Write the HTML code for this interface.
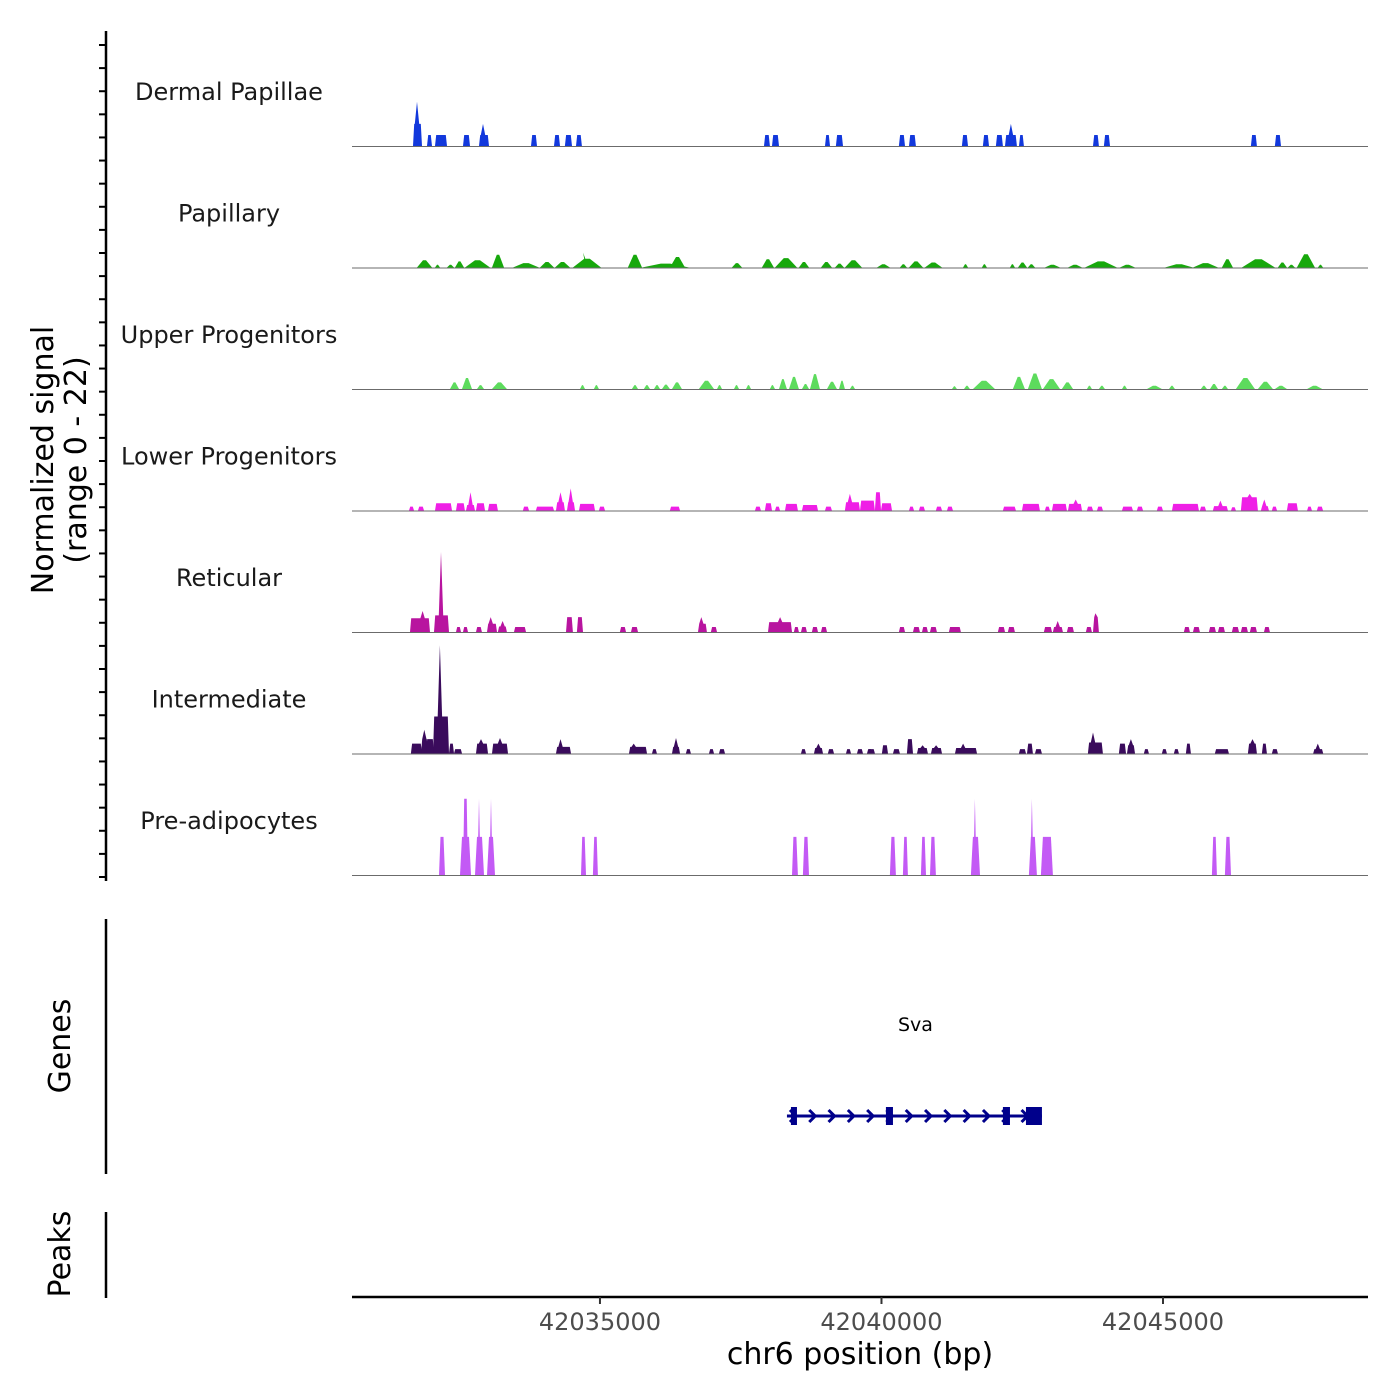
<!DOCTYPE html>
<html><head><meta charset="utf-8"><style>
html,body{margin:0;padding:0;background:#fff;}
svg{display:block;font-family:"DejaVu Sans","Liberation Sans",sans-serif;}
</style></head><body>
<svg id="chart" width="1400" height="1400" viewBox="0 0 1400 1400" xmlns="http://www.w3.org/2000/svg">
<g id="tracks"></g>
<g id="axes"></g>
<g id="genes"></g>
</svg>
<script>
// positions in kb offset from 42,030,000 bp; heights in normalized signal units (0-22)
const trackNames = ["Dermal Papillae","Papillary","Upper Progenitors","Lower Progenitors","Reticular","Intermediate","Pre-adipocytes"];
const trackColors = ["#1238dc","#17a80c","#5ddb5d","#ef1fe6","#b8149f","#3a0b5c","#c35af5"];
// [start, end, height, peakPos, peakHeight]
const dermalPapillae = [[1.679,1.839,4,1.750,8],[1.928,2.017,2],[2.070,2.283,2],[2.567,2.691,2],[2.851,3.029,2,2.922,4],[3.775,3.881,2],[4.183,4.290,2],[4.378,4.503,2],[4.574,4.680,2],[7.913,8.019,2],[8.055,8.179,2],[8.996,9.085,2],[9.191,9.316,2],[10.310,10.417,2],[10.488,10.612,2],[11.429,11.536,2],[11.802,11.909,2],[12.033,12.157,2],[12.193,12.406,2,12.299,4],[12.442,12.530,2],[13.756,13.862,2],[13.951,14.058,2],[16.562,16.668,2],[16.988,17.095,2]];
const papillary = [[1.750,2.017,1.3],[2.070,2.159,0.5],[2.283,2.407,0.5],[2.425,2.585,1.1],[2.603,3.047,1.3],[3.082,3.295,2.3],[3.455,3.917,0.8],[3.935,4.183,1.0],[4.201,4.467,1.0],[4.520,5.018,1.6,4.70,2.7],[5.497,5.746,2.3],[5.746,6.581,0.7],[6.243,6.510,1.9],[7.344,7.522,0.8],[7.877,8.090,1.5],[8.108,8.499,1.7],[8.534,8.712,1.0],[8.925,9.120,1.0],[9.174,9.334,0.7],[9.351,9.653,1.3],[9.920,10.150,0.6],[10.328,10.452,0.6],[10.488,10.737,1.1],[10.772,11.074,0.9],[11.447,11.536,0.6],[11.784,11.873,0.6],[12.282,12.370,0.6],[12.424,12.584,0.9],[12.601,12.726,0.6],[12.903,13.170,0.5],[13.312,13.561,0.5],[13.614,14.182,1.1],[14.235,14.502,0.5],[15.035,15.532,0.6],[15.532,15.976,0.8],[16.047,16.242,1.5],[16.401,16.988,1.5],[17.041,17.201,0.9],[17.219,17.343,0.5],[17.378,17.698,2.4],[17.752,17.841,0.5]];
const upperProgenitors = [[2.336,2.496,1.2],[2.549,2.727,2.0],[2.816,2.940,0.7],[3.082,3.348,1.2,3.15,2.0],[4.645,4.734,0.7],[4.893,4.982,0.7],[5.568,5.675,0.7],[5.781,5.888,0.7],[5.959,6.066,0.7],[6.101,6.243,0.8],[6.279,6.456,1.2],[6.758,7.025,1.5],[7.078,7.167,0.7],[7.380,7.469,0.7],[7.593,7.682,0.7],[8.019,8.108,0.7],[8.179,8.321,1.8],[8.357,8.534,2.2],[8.588,8.712,0.9],[8.730,8.907,2.7],[9.032,9.209,1.3],[9.245,9.351,1.5],[9.44,9.529,0.6],[11.252,11.340,0.5],[11.465,11.571,0.6],[11.625,12.015,1.5],[12.335,12.548,2.2],[12.601,12.850,2.8],[12.868,13.170,1.8],[13.205,13.401,1.2],[13.649,13.738,0.6],[13.862,13.969,0.6],[14.271,14.360,0.6],[14.715,14.981,0.6],[15.106,15.212,0.6],[15.674,15.780,0.6],[15.834,15.976,0.9],[16.047,16.153,0.6],[16.295,16.633,2.0],[16.686,16.952,1.3],[16.988,17.201,0.6],[17.56,17.827,0.6]];
const lowerProgenitors = [[1.608,1.697,0.7],[1.768,1.874,0.7],[2.070,2.372,1.3],[2.443,2.602,1.3],[2.620,2.780,1.0,2.70,3.3],[2.798,2.958,1.3],[3.011,3.188,1.2],[3.632,3.739,0.7],[3.863,4.183,0.7],[4.219,4.378,1.5,4.30,3.3],[4.414,4.556,1.5,4.48,4.0],[4.627,4.911,1.2],[4.982,5.089,0.7],[6.243,6.421,0.7],[7.753,7.859,0.7],[7.930,8.055,1.3],[8.108,8.197,0.7],[8.286,8.516,1.2],[8.588,8.872,1.0],[8.996,9.120,0.7],[9.351,9.618,1.5,9.44,3.0],[9.618,9.884,1.8],[9.884,9.991,3.3],[9.991,10.186,1.3],[10.488,10.577,0.7],[10.665,10.772,0.7],[10.967,11.074,0.7],[11.163,11.269,0.7],[12.157,12.388,0.7],[12.495,12.814,1.2],[12.903,12.992,0.7],[13.028,13.294,1.2],[13.312,13.561,1.2,13.45,2.0],[13.649,13.756,0.7],[13.827,13.933,0.7],[14.271,14.466,0.7],[14.537,14.644,0.7],[14.892,14.999,0.7],[15.159,15.638,1.2],[15.656,15.763,0.7],[15.887,16.153,0.8,16.02,1.8],[16.207,16.295,0.6],[16.384,16.686,2.4,16.54,3.0],[16.739,16.881,0.8,16.80,2.0],[16.935,17.024,0.7],[17.201,17.396,1.3],[17.56,17.645,0.7],[17.734,17.841,0.7]];
const reticular = [[1.626,1.981,2.5,1.85,3.8],[2.052,2.318,3.0,2.176,14.5],[2.443,2.532,0.9],[2.567,2.656,0.9],[2.798,2.904,0.9],[2.993,3.171,1.5,3.06,2.7],[3.188,3.348,1.0,3.27,2.0],[3.473,3.686,0.9],[4.396,4.520,2.7],[4.591,4.698,2.7],[5.355,5.462,0.9],[5.551,5.675,0.9],[6.741,6.900,1.5,6.80,2.7],[6.971,7.078,0.9],[7.984,8.410,1.8,8.20,2.7],[8.445,8.534,0.9],[8.570,8.676,0.9],[8.765,8.872,0.9],[8.925,9.032,0.9],[10.310,10.417,0.9],[10.559,10.683,0.9],[10.719,10.825,0.9],[10.861,10.985,0.9],[11.198,11.411,0.9],[12.068,12.193,0.9],[12.246,12.370,0.9],[12.885,13.028,0.9],[13.045,13.223,0.9,13.13,2.0],[13.294,13.418,0.9],[13.631,13.738,0.9],[13.756,13.862,2.7,13.80,3.4],[15.372,15.478,0.9],[15.532,15.656,0.9],[15.816,15.940,0.9],[15.976,16.100,0.9],[16.224,16.349,0.9],[16.384,16.508,0.9],[16.544,16.668,0.9],[16.793,16.899,0.9]];
const intermediate = [[1.643,1.839,1.8],[1.821,1.945,2.6,1.88,4.3],[1.910,2.052,2.6],[2.034,2.318,6.7,2.158,19.6],[2.318,2.407,1.8],[2.407,2.549,0.8],[2.798,3.011,1.8,2.887,2.6],[3.082,3.366,1.8,3.224,2.8],[4.219,4.485,1.2,4.30,2.6],[5.515,5.835,1.2,5.60,1.8],[5.924,6.012,0.8],[6.279,6.421,1.2,6.35,2.8],[6.527,6.616,0.8],[6.936,7.025,0.8],[7.114,7.220,0.8],[8.570,8.659,0.8],[8.801,8.961,1.0,8.88,1.8],[9.049,9.156,0.8],[9.369,9.458,0.8],[9.565,9.671,0.8],[9.742,9.831,0.8],[9.760,9.884,0.8],[10.008,10.115,1.5],[10.204,10.328,0.8],[10.452,10.559,2.6],[10.630,10.825,1.0,10.73,1.5],[10.879,11.074,1.0,10.97,1.5],[11.305,11.696,1.0,11.45,1.8],[12.441,12.566,0.8],[12.584,12.690,1.8],[12.726,12.850,0.8],[13.667,13.933,2.0,13.756,3.8],[14.217,14.342,1.8],[14.360,14.502,1.5,14.43,2.6],[14.661,14.750,0.8],[14.981,15.070,0.8],[15.194,15.283,0.8],[15.407,15.496,1.8],[15.922,16.171,0.8],[16.508,16.668,1.8,16.59,2.6],[16.757,16.846,1.8],[16.935,17.041,0.8],[17.667,17.845,0.8,17.75,1.8]];
const preAdipocytes = [[2.141,2.247,6.9],[2.514,2.709,6.9],[2.567,2.656,13.8],[2.780,2.940,6.9,2.851,13.8],[2.993,3.135,6.9,3.064,13.8],[4.663,4.752,6.9],[4.875,4.964,6.9],[8.410,8.516,6.9],[8.605,8.712,6.9],[10.150,10.257,6.9],[10.381,10.470,6.9],[10.701,10.790,6.9],[10.861,10.967,6.9],[11.589,11.749,6.9,11.660,13.8],[12.618,12.761,6.9,12.672,13.8],[12.832,13.045,6.9],[15.869,15.958,6.9],[16.100,16.207,6.9]];
const trackData = [dermalPapillae,papillary,upperProgenitors,lowerProgenitors,reticular,intermediate,preAdipocytes];
const trackStyle = ["b","m","m","b","b","b","t"];
const xTickValues = [42035000,42040000,42045000];
const xTickLabels = ["42035000","42040000","42045000"];
const geneName = "Sva";
const geneSpan = [8.321,12.850];
const geneExons = [[8.392,8.499],[10.079,10.204],[12.157,12.282],[12.566,12.850]];

const NS="http://www.w3.org/2000/svg";
const X0=352,X1=1368,BP0=42030596,BP1=42048641;
function xs(kb){const bp=42030000+kb*1000;return X0+(bp-BP0)/(BP1-BP0)*(X1-X0);}
function xbp(bp){return X0+(bp-BP0)/(BP1-BP0)*(X1-X0);}
const YMAX=22,TH=121.5,BASE0=146;
function base(i){return BASE0+i*TH;}
function ys(i,v){return base(i)-v/YMAX*TH;}
function mk(tag,attrs,parent){const e=document.createElementNS(NS,tag);for(const k in attrs)e.setAttribute(k,attrs[k]);parent.appendChild(e);return e;}

const gT=document.getElementById('tracks');
trackData.forEach((feats,i)=>{
  const g=mk('g',{},gT);
  
  
  const b=base(i);
  feats.forEach(f=>{
    const s=xs(f[0]),e=xs(f[1]),h=ys(i,f[2]);
    let inset=trackStyle[i]==='m'?(e-s)*0.4:(trackStyle[i]==='t'?Math.min(2,(e-s)*0.25):1.2);
    const pts=[[s,b],[s+inset,h]];
    if(f.length>3){const p=xs(f[3]),ph=ys(i,f[4]);const hw=trackStyle[i]==='t'&&f[4]>f[2]?0.8:2.2;
      pts.push([Math.max(s+inset,p-hw),h],[p,ph],[Math.min(e-inset,p+hw),h]);}
    pts.push([e-inset,h],[e,b]);
    const poly=mk('polygon',{points:pts.map(p=>p[0].toFixed(1)+','+p[1].toFixed(1)).join(' '),fill:trackColors[i]},g);
    
    
  });
  const bl=mk('line',{x1:X0,x2:X1,y1:b+0.5,y2:b+0.5,stroke:'#6b6b6b','stroke-width':1},g);
  
  
  const lab=mk('text',{x:229,y:b-46,'text-anchor':'middle','font-size':24,fill:'#1a1a1a'},g);
  lab.textContent=trackNames[i];
  
  
});

const gA=document.getElementById('axes');
let l=mk('line',{x1:106,x2:106,y1:31,y2:881,stroke:'#000','stroke-width':2.5},gA);


for(let k=0;k<37;k++){
  const y=45+k*(877-45)/36;
  const t=mk('line',{x1:99,x2:106,y1:y,y2:y,stroke:'#000','stroke-width':2},gA);
  
  
}
let yt=mk('text',{transform:'translate(53,460) rotate(-90)','text-anchor':'middle','font-size':30,fill:'#000'},gA);


let ts1=mk('tspan',{x:0,dy:0},yt);ts1.textContent='Normalized signal';
let ts2=mk('tspan',{x:0,dy:33},yt);ts2.textContent='(range 0 - 22)';
l=mk('line',{x1:106,x2:106,y1:919,y2:1174,stroke:'#000','stroke-width':2.5},gA);


let gt=mk('text',{transform:'translate(70,1046) rotate(-90)','text-anchor':'middle','font-size':30,fill:'#000'},gA);
gt.textContent='Genes';


l=mk('line',{x1:106,x2:106,y1:1212,y2:1298,stroke:'#000','stroke-width':2.5},gA);


let pt=mk('text',{transform:'translate(70,1254) rotate(-90)','text-anchor':'middle','font-size':30,fill:'#000'},gA);
pt.textContent='Peaks';


l=mk('line',{x1:X0,x2:X1,y1:1297,y2:1297,stroke:'#000','stroke-width':2.5},gA);


xTickValues.forEach((v,k)=>{
  const x=xbp(v);
  const t=mk('line',{x1:x,x2:x,y1:1297,y2:1304,stroke:'#333','stroke-width':2},gA);
  
  
  const tl=mk('text',{x:x,y:1330,'text-anchor':'middle','font-size':24,fill:'#4d4d4d'},gA);
  tl.textContent=xTickLabels[k];
  
  
});
let xt=mk('text',{x:860,y:1364,'text-anchor':'middle','font-size':30,fill:'#000'},gA);
xt.textContent='chr6 position (bp)';



const gG=document.getElementById('genes');
const GY=1116;
const gl=mk('line',{x1:xs(geneSpan[0]),x2:xs(geneSpan[1]),y1:GY,y2:GY,stroke:'#00008b','stroke-width':3},gG);


for(let x=xs(geneSpan[0])+3;x<xs(geneSpan[1])-12;x+=19.3){
  const a=mk('polyline',{points:`${x},${GY-6} ${x+6},${GY} ${x},${GY+6}`,fill:'none',stroke:'#00008b','stroke-width':3},gG);
  
  
}
geneExons.forEach(ex=>{
  const r=mk('rect',{x:xs(ex[0]),y:GY-9,width:xs(ex[1])-xs(ex[0]),height:18,fill:'#00008b'},gG);
  
  
});
const gn=mk('text',{x:(xs(geneSpan[0])+xs(geneSpan[1]))/2+1,y:1031,'text-anchor':'middle','font-size':19,fill:'#000'},gG);
gn.textContent=geneName;


</script>
</body></html>
